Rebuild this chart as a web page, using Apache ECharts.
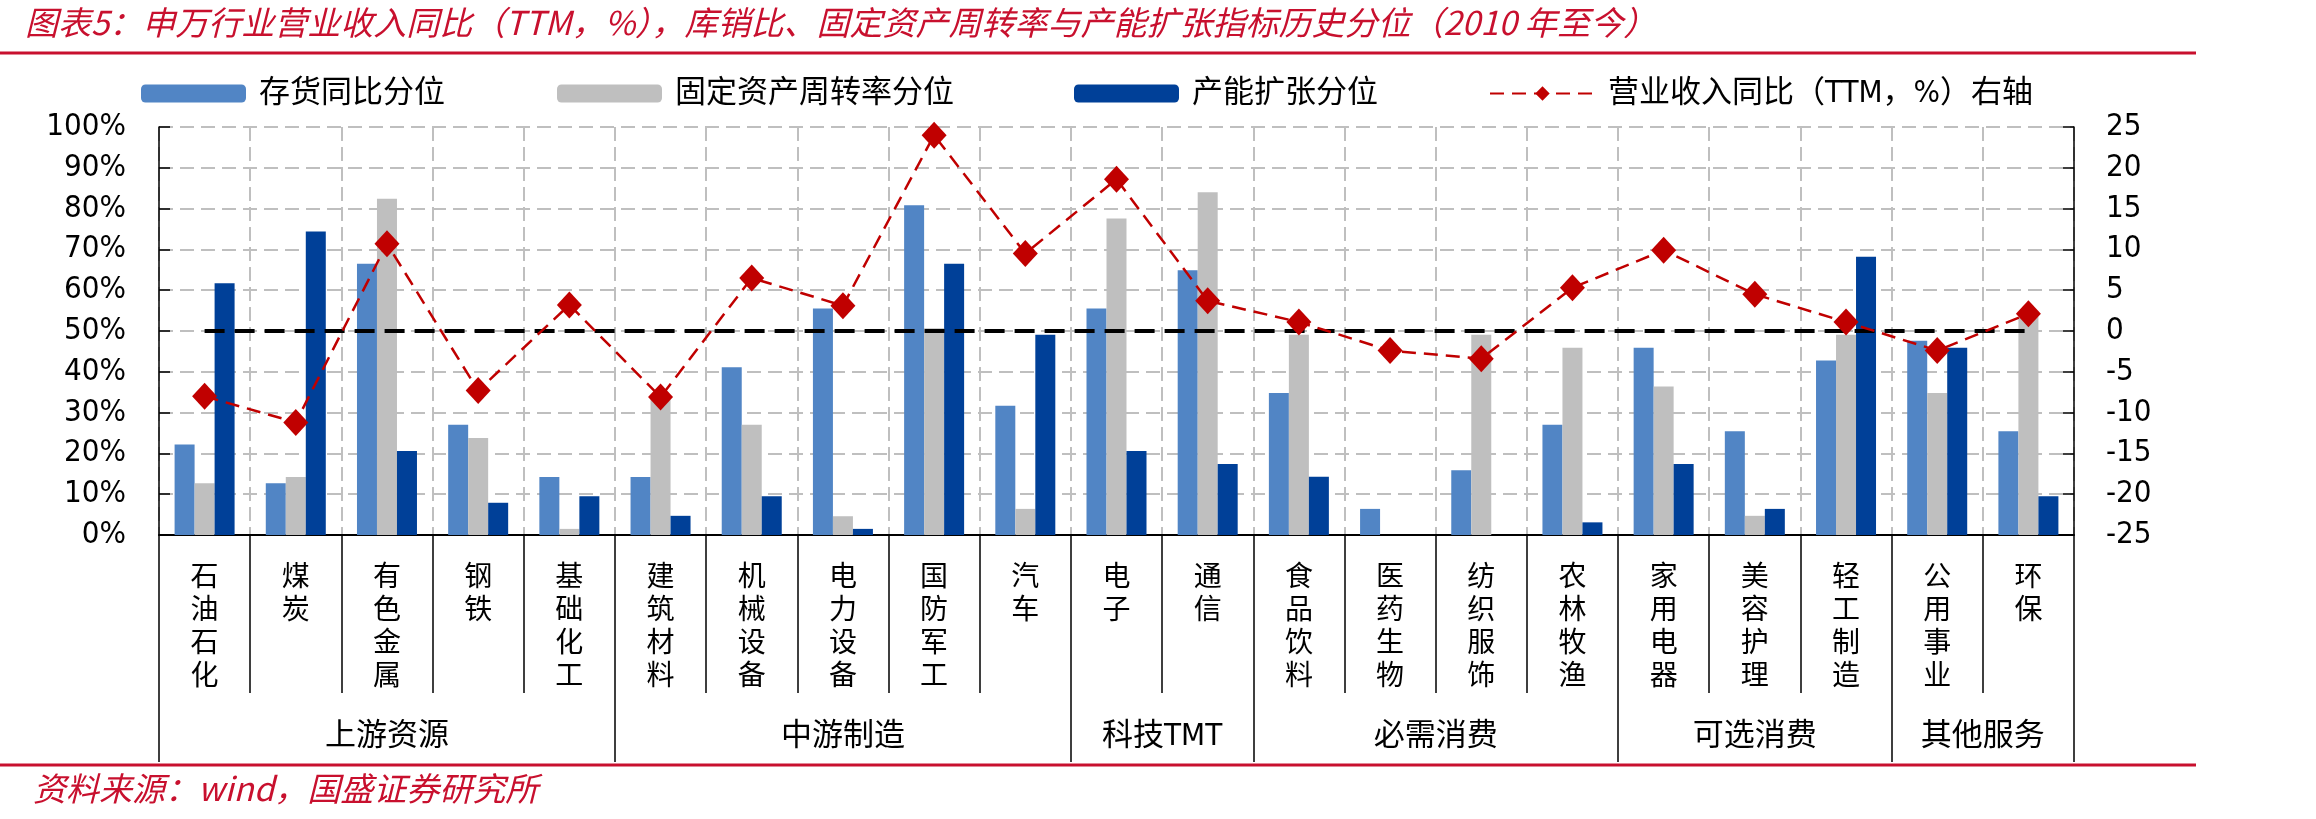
<!DOCTYPE html>
<html>
<head>
<meta charset="utf-8">
<title>申万行业营业收入同比与历史分位</title>
<script src="https://cdn.jsdelivr.net/npm/echarts@6/dist/echarts.min.js"></script>
<style>
html, body { margin: 0; padding: 0; background: #fff; }
#main { width: 2316px; height: 819px; }
</style>
</head>
<body>
<div id="main"></div>
<script>
// 行业与分组
var industries = ['石油石化', '煤炭', '有色金属', '钢铁', '基础化工', '建筑材料', '机械设备', '电力设备', '国防军工', '汽车',
  '电子', '通信', '食品饮料', '医药生物', '纺织服饰', '农林牧渔', '家用电器', '美容护理', '轻工制造', '公用事业', '环保'];
var groups = ['上游资源', '中游制造', '科技TMT', '必需消费', '可选消费', '其他服务'];
var groupSizes = [5, 5, 2, 4, 3, 2];

// 左轴（%）
var inventoryPct = [22.2, 12.7, 66.5, 27.0, 14.2, 14.2, 41.1, 55.5, 80.8, 31.7, 55.5, 64.9, 34.8, 6.4, 15.9, 27.0, 45.9, 25.4, 42.8, 47.6, 25.4];
var turnoverPct  = [12.7, 14.2, 82.4, 23.8, 1.5, 33.2, 27.0, 4.6, 50.7, 6.4, 77.6, 84.0, 49.1, 0, 49.1, 45.9, 36.4, 4.7, 49.1, 34.8, 53.6];
var capacityPct  = [61.7, 74.4, 20.6, 7.9, 9.5, 4.7, 9.5, 1.5, 66.5, 49.1, 20.6, 17.4, 14.3, 0, 0, 3.1, 17.4, 6.4, 68.2, 45.9, 9.5];
// 50%分位线
var midline = [50, 50, 50, 50, 50, 50, 50, 50, 50, 50, 50, 50, 50, 50, 50, 50, 50, 50, 50, 50, 50];
// 右轴
var revenueYoY = [-8.0, -11.2, 10.7, -7.3, 3.2, -8.1, 6.5, 3.1, 24.0, 9.5, 18.6, 3.7, 1.1, -2.4, -3.4, 5.3, 9.9, 4.5, 1.1, -2.4, 2.1];

var leftAxis = { min: 0, max: 100, interval: 10 };
var rightAxis = { min: -25, max: 25, interval: 5 };

var RED = '#C8102E';
var latin = "'DejaVu Sans Condensed', 'Liberation Sans', 'Noto Sans CJK SC', sans-serif";
var cjk = "'Noto Sans CJK SC', sans-serif";

// 分组轴：在 0..行业数 的数值轴上，分界与中点
var groupEdges = [0];
var groupMids = [];
var acc = 0;
for (var g = 0; g < groups.length; g++) {
  groupMids.push(acc + groupSizes[g] / 2);
  acc += groupSizes[g];
  groupEdges.push(acc);
}

var myChart = echarts.init(document.getElementById('main'));
var option = {
  backgroundColor: '#fff',
  animation: false,
  title: [{
    text: '图表5：申万行业营业收入同比（TTM，%），库销比、固定资产周转率与产能扩张指标历史分位（2010 年至今）',
    left: 20, top: 1,
    textStyle: { color: RED, fontSize: 33, fontStyle: 'italic', fontWeight: 'normal', fontFamily: cjk }
  }, {
    text: '资料来源：wind，国盛证券研究所',
    left: 28, top: 767,
    textStyle: { color: RED, fontSize: 33, fontStyle: 'italic', fontWeight: 'normal', fontFamily: cjk }
  }],
  graphic: [
    { type: 'line', shape: { x1: 0, y1: 53, x2: 2196, y2: 53 }, style: { stroke: RED, lineWidth: 3 } },
    { type: 'line', shape: { x1: 0, y1: 765, x2: 2196, y2: 765 }, style: { stroke: RED, lineWidth: 3 } }
  ],
  legend: [
    { data: ['存货同比分位'], left: 136, top: 73 },
    { data: ['固定资产周转率分位'], left: 552, top: 73 },
    { data: ['产能扩张分位'], left: 1069, top: 73 },
    { data: ['营业收入同比（TTM，%）右轴'], left: 1484, top: 73 }
  ].map(function (l) {
    l.itemWidth = 105;
    l.itemHeight = 18;
    l.textStyle = { fontSize: 31, color: '#000', fontFamily: latin, padding: [0, 0, 0, 8] };
    return l;
  }),
  grid: { left: 159, right: 242, top: 127, bottom: 284, containLabel: false },
  xAxis: [{
    type: 'category',
    data: industries,
    position: 'bottom',
    axisLine: { show: true, onZero: false, lineStyle: { color: '#000', width: 2 } },
    axisTick: { show: true, length: 158, interval: 0, lineStyle: { color: '#000', width: 1.5 } },
    axisLabel: {
      interval: 0, margin: 24, color: '#000', fontSize: 28, lineHeight: 33, fontFamily: cjk,
      formatter: function (v) { return v.split('').join('\n'); }
    },
    splitLine: { show: true, interval: 0, lineStyle: { color: '#BFBFBF', width: 2, type: [14, 6] } }
  }, {
    type: 'value',
    min: 0, max: industries.length,
    position: 'bottom',
    axisLine: { show: false, onZero: false },
    axisTick: {
      show: true, length: 227, customValues: groupEdges,
      lineStyle: { color: '#000', width: 1.5 }
    },
    axisLabel: {
      customValues: groupMids,
      margin: 186, color: '#000', fontSize: 31, fontFamily: latin,
      formatter: function (v) {
        var k = groupMids.indexOf(v);
        return k >= 0 ? groups[k] : '';
      }
    },
    splitLine: { show: false }
  }],
  yAxis: [{
    type: 'value',
    min: leftAxis.min, max: leftAxis.max, interval: leftAxis.interval,
    position: 'left',
    axisLine: { show: true, onZero: false, lineStyle: { color: '#000', width: 1.5 } },
    axisTick: { show: true, inside: true, length: 11, lineStyle: { color: '#000', width: 1.5 } },
    axisLabel: { formatter: '{value}%', margin: 33, color: '#000', fontSize: 31, fontFamily: latin },
    splitLine: { show: true, lineStyle: { color: '#BFBFBF', width: 2, type: [14, 7] } }
  }, {
    type: 'value',
    min: rightAxis.min, max: rightAxis.max, interval: rightAxis.interval,
    position: 'right',
    axisLine: { show: true, onZero: false, lineStyle: { color: '#000', width: 1.5 } },
    axisTick: { show: true, inside: true, length: 11, lineStyle: { color: '#000', width: 1.5 } },
    axisLabel: { margin: 32, color: '#000', fontSize: 31, fontFamily: latin, align: 'left' },
    splitLine: { show: false }
  }],
  series: [{
    name: '存货同比分位', type: 'bar', data: inventoryPct,
    barWidth: 20, barGap: '0%',
    itemStyle: { color: '#5185C5' }
  }, {
    name: '固定资产周转率分位', type: 'bar', data: turnoverPct,
    barWidth: 20, barGap: '0%',
    itemStyle: { color: '#BFBFBF' }
  }, {
    name: '产能扩张分位', type: 'bar', data: capacityPct,
    barWidth: 20, barGap: '0%',
    itemStyle: { color: '#004098' }
  }, {
    name: '50%', type: 'line', data: midline,
    symbol: 'none', silent: true,
    lineStyle: { color: '#000', width: 4, type: [20, 10] }
  }, {
    name: '营业收入同比（TTM，%）右轴', type: 'line', yAxisIndex: 1, data: revenueYoY,
    symbol: 'diamond', symbolSize: [25, 27],
    itemStyle: { color: '#C00000' },
    lineStyle: { color: '#C00000', width: 2.5, type: [14, 8] }
  }]
};
myChart.setOption(option);
</script>
</body>
</html>
